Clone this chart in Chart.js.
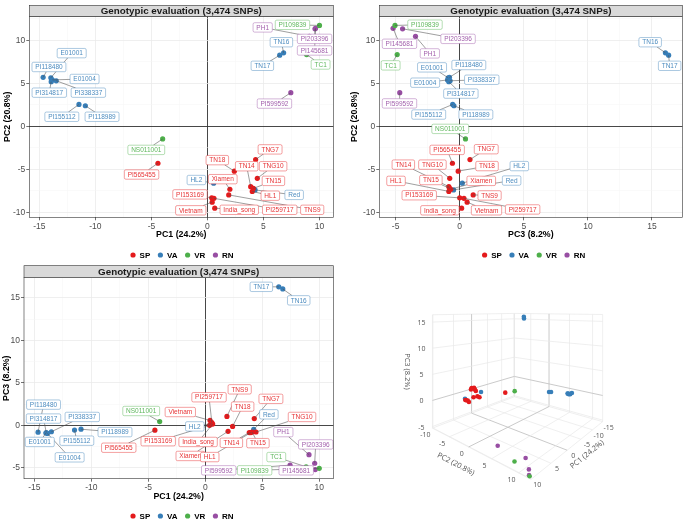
<!DOCTYPE html>
<html>
<head>
<meta charset="utf-8">
<script src="https://cdn.jsdelivr.net/npm/chart.js@4.4.1/dist/chart.umd.min.js"></script>
<style>
  body { margin: 0; background: #fff; }
  #wrap { position: relative; width: 685px; height: 520px; overflow: hidden; }
  canvas { position: absolute; }
</style>
</head>
<body>
<div id="wrap">
  <canvas id="pca12" width="340" height="262" style="left:0;top:0"></canvas>
  <canvas id="pca32" width="345" height="262" style="left:340px;top:0"></canvas>
  <canvas id="pca13" width="340" height="262" style="left:0;top:258px"></canvas>
  <canvas id="pca3d" width="340" height="240" style="left:345px;top:280px"></canvas>
</div>
<script>
// ---------------- data ----------------
const sample = ['PI565455','TNG7','TN18','TN14','TNG10','TN15','Xiamen','HL1','PI153169','Vietnam','India_song','PI259717','TNS9',
                'E01001','PI118480','E01004','PI314817','PI338337','PI155112','PI118989','TN16','TN17','HL2','Red',
                'NS011001','PI109839','TC1',
                'PH1','PI203396','PI145681','PI599592'];
const group = ['SP','SP','SP','SP','SP','SP','SP','SP','SP','SP','SP','SP','SP',
               'VA','VA','VA','VA','VA','VA','VA','VA','VA','VA','VA',
               'VR','VR','VR',
               'RN','RN','RN','RN'];
const pc1 = [-4.42, 4.30, 2.40, 3.86, 4.45, 4.10, 2.00, 4.00, 0.38, 0.42, 0.65, 0.58, 1.90,
             -13.98, -14.67, -13.85, -13.95, -13.50, -11.47, -10.90, 6.80, 6.45, 0.55, 4.25,
             -4.00, 10.00, 8.85,
             9.10, 9.60, 9.65, 7.44];
const pc2 = [-4.28, -3.85, -5.20, -7.00, -6.03, -7.20, -7.30, -7.55, -8.30, -8.80, -9.50, -8.36, -7.96,
             5.65, 5.70, 5.40, 5.20, 5.30, 2.55, 2.40, 8.55, 8.27, -6.60, -7.38,
             -1.46, 11.73, 8.35,
             10.46, 11.34, 11.40, 3.92];
const pc3 = [-0.57, 0.80, -0.12, -0.85, -0.78, -0.78, -0.70, -0.85, 0.00, 0.58, 0.15, 0.33, 1.05,
             -0.90, -0.80, -0.95, -0.85, -0.75, -0.55, -0.45, 16.05, 16.30, 0.20, -0.48,
             0.45, -5.05, -4.88,
             -3.45, -4.46, -5.20, -4.68];

const groups = ['SP','VA','VR','RN'];
const groupColors = ['#E41A1C','#377EB8','#4DAF4A','#984EA3'];
const panelTitle = 'Genotypic evaluation (3,474 SNPs)';
const axisName = { pc1: 'PC1 (24.2%)', pc2: 'PC2 (20.8%)', pc3: 'PC3 (8.2%)' };

// where ggrepel put each label (data units of each panel)
const labelAt12 = {
  E01001: [-12.12, 8.51], PI118480: [-14.15, 6.9], E01004: [-10.97, 5.51], PI314817: [-14.12, 3.92],
  PI338337: [-10.63, 3.92], PI155112: [-13.0, 1.12], PI118989: [-9.41, 1.12],
  PH1: [4.93, 11.5], PI109839: [7.59, 11.8], TN16: [6.6, 9.78], PI203396: [9.56, 10.17],
  PI145681: [9.56, 8.82], TN17: [4.9, 7.04], TC1: [10.1, 7.19], PI599592: [5.98, 2.65],
  NS011001: [-5.46, -2.73], PI565455: [-5.88, -5.59], TNG7: [5.59, -2.67], TN18: [0.88, -3.92],
  TN14: [3.5, -4.63], TNG10: [5.86, -4.63], HL2: [-0.99, -6.23], Xiamen: [1.37, -6.13],
  TN15: [5.89, -6.33], HL1: [5.61, -8.05], Red: [7.74, -7.96], PI153169: [-1.56, -7.9],
  Vietnam: [-1.49, -9.75], India_song: [2.84, -9.69], PI259717: [6.45, -9.69], TNS9: [9.35, -9.69]
};
const labelAt32 = {
  PI109839: [-2.71, 11.82], PI145681: [-4.7, 9.6], PI203396: [-0.13, 10.17], PH1: [-2.33, 8.48],
  TC1: [-5.39, 7.09], E01001: [-2.16, 6.86], PI118480: [0.71, 7.13], E01004: [-2.7, 5.08],
  PI338337: [1.72, 5.42], PI314817: [0.09, 3.81], PI599592: [-4.7, 2.67], PI155112: [-2.42, 1.38],
  PI118989: [1.26, 1.38], TN16: [14.86, 9.78], TN17: [16.38, 7.04], NS011001: [-0.74, -0.29],
  PI565455: [-0.98, -2.73], TNG7: [2.07, -2.65], TN14: [-4.4, -4.44], TNG10: [-2.13, -4.44],
  TN18: [2.13, -4.61], HL2: [4.65, -4.61], HL1: [-4.97, -6.33], TN15: [-2.25, -6.23],
  Xiamen: [1.68, -6.33], Red: [4.05, -6.29], PI153169: [-3.16, -8.0], TNS9: [2.33, -8.02],
  India_song: [-1.55, -9.75], Vietnam: [2.09, -9.75], PI259717: [4.91, -9.65]
};
const labelAt13 = {
  TN17: [4.92, 16.3], TN16: [8.2, 14.71], PI118480: [-14.19, 2.44], PI314817: [-14.19, 0.8],
  PI338337: [-10.79, 0.99], PI118989: [-7.92, -0.79], E01001: [-14.52, -1.95], PI155112: [-11.27, -1.8],
  E01004: [-11.9, -3.76], NS011001: [-5.62, 1.69], PI565455: [-7.59, -2.63], PI259717: [0.33, 3.31],
  TNS9: [3.02, 4.24], TNG7: [5.76, 3.12], Vietnam: [-2.19, 1.57], TN18: [3.28, 2.21],
  Red: [5.58, 1.3], TNG10: [8.49, 0.99], HL2: [-0.92, -0.12], PI153169: [-4.13, -1.86],
  India_song: [-0.63, -1.95], TN14: [2.29, -2.05], TN15: [4.62, -2.09], PH1: [6.85, -0.79],
  Xiamen: [-1.31, -3.6], HL1: [0.39, -3.73], PI203396: [9.69, -2.24], TC1: [6.23, -3.73],
  PI599592: [1.18, -5.29], PI109839: [4.33, -5.29], PI145681: [7.98, -5.29]
};

//------------------------------------------------------------------

const FONT = '"Liberation Sans", Arial, sans-serif';

function expand(v) {
  const lo = Math.min(...v), hi = Math.max(...v), d = (hi - lo) * 0.05;
  return [lo - d, hi + d];
}

function rgba(hex, a) {
  const n = parseInt(hex.slice(1), 16);
  return 'rgba(' + (n >> 16) + ',' + ((n >> 8) & 255) + ',' + (n & 255) + ',' + a + ')';
}

function groupSets(xv, yv, r) {
  return groups.map((g, gi) => ({
    label: g,
    data: sample.map((s, i) => ({ x: xv[i], y: yv[i], name: s })).filter((d, i) => group[i] === g),
    backgroundColor: groupColors[gi],
    borderWidth: 0,
    pointRadius: r,
    pointHoverRadius: r
  }));
}

function ggAxis(range, title, size, titlePad) {
  return {
    type: 'linear',
    min: range[0],
    max: range[1],
    afterBuildTicks: sc => {
      const t = [];
      for (let v = Math.ceil(sc.min / 2.5) * 2.5; v <= sc.max; v += 2.5) t.push({ value: v });
      sc.ticks = t;
    },
    afterFit: sc => { if (sc.isHorizontal()) sc.height = size; else sc.width = size; },
    ticks: {
      callback: v => (v % 5 === 0 ? v : ''),
      color: '#4D4D4D',
      font: { family: FONT, size: 8.5 },
      padding: 1,
      maxRotation: 0,
      autoSkip: false
    },
    grid: {
      color: c => (c.tick.value === 0 ? '#333333' : (c.tick.value % 5 === 0 ? '#EBEBEB' : '#F4F4F4')),
      lineWidth: c => (c.tick.value === 0 ? 0.9 : (c.tick.value % 5 === 0 ? 0.8 : 0.5)),
      tickColor: c => (c.tick.value % 5 === 0 ? '#333333' : 'rgba(0,0,0,0)'),
      tickLength: 3,
      tickWidth: 0.7
    },
    border: { display: false },
    title: { display: true, text: title, color: '#000', font: { family: FONT, size: 8.8, weight: 'bold' }, padding: titlePad }
  };
}

// strip, panel border and legend like ggplot theme_bw
const ggFrame = {
  id: 'ggFrame',
  afterDraw(chart, args, o) {
    const ctx = chart.ctx, a = chart.chartArea;
    ctx.save();
    ctx.strokeStyle = '#333333';
    ctx.lineWidth = 0.6;
    ctx.strokeRect(a.left, a.top, a.right - a.left, a.bottom - a.top);
    ctx.fillStyle = '#D9D9D9';
    ctx.fillRect(a.left, a.top - o.strip, a.right - a.left, o.strip);
    ctx.strokeRect(a.left, a.top - o.strip, a.right - a.left, o.strip);
    ctx.fillStyle = '#1A1A1A';
    ctx.font = 'bold 9.8px ' + FONT;
    ctx.textAlign = 'center';
    ctx.textBaseline = 'middle';
    ctx.fillText(panelTitle, (a.left + a.right) / 2, a.top - o.strip / 2 + 0.5);

    // legend
    ctx.font = 'bold 8px ' + FONT;
    ctx.textAlign = 'left';
    const r = 2.6, gap = 4, sep = 7.5;
    const items = chart.data.datasets.map(ds => ({ t: ds.label, c: ds.backgroundColor, w: ctx.measureText(ds.label).width }));
    const total = items.reduce((s, it) => s + 2 * r + gap + it.w, 0) + sep * (items.length - 1);
    let x = o.legendX - total / 2;
    items.forEach(it => {
      ctx.fillStyle = it.c;
      ctx.beginPath();
      ctx.arc(x + r, o.legendY, r, 0, Math.PI * 2);
      ctx.fill();
      ctx.fillStyle = '#000';
      ctx.fillText(it.t, x + 2 * r + gap, o.legendY + 0.5);
      x += 2 * r + gap + it.w + sep;
    });
    ctx.restore();
  }
};

// ggrepel style labels with segments
const repelLabels = {
  id: 'repelLabels',
  afterDatasetsDraw(chart, args, o) {
    const ctx = chart.ctx, xs = chart.scales.x, ys = chart.scales.y;
    ctx.save();
    ctx.font = '6.5px ' + FONT;
    const boxes = [];
    chart.data.datasets.forEach((ds, di) => {
      const meta = chart.getDatasetMeta(di);
      ds.data.forEach((d, i) => {
        const p = o.at[d.name];
        if (!p) return;
        const el = meta.data[i];
        boxes.push({
          px: el.x, py: el.y,
          cx: xs.getPixelForValue(p[0]), cy: ys.getPixelForValue(p[1]),
          w: ctx.measureText(d.name).width + 6.6, h: 9.4,
          name: d.name, color: ds.backgroundColor
        });
      });
    });
    ctx.strokeStyle = 'rgba(80,80,80,0.85)';
    ctx.lineWidth = 0.65;
    boxes.forEach(b => {
      const dx = b.px - b.cx, dy = b.py - b.cy;
      const s = Math.min(dx ? (b.w / 2) / Math.abs(dx) : Infinity, dy ? (b.h / 2) / Math.abs(dy) : Infinity);
      if (s >= 1) return;
      const ex = b.cx + dx * s, ey = b.cy + dy * s;
      if (Math.hypot(b.px - ex, b.py - ey) < 2.5) return;
      ctx.beginPath();
      ctx.moveTo(b.px, b.py);
      ctx.lineTo(ex, ey);
      ctx.stroke();
    });
    ctx.textAlign = 'center';
    ctx.textBaseline = 'middle';
    boxes.forEach(b => {
      const l = b.cx - b.w / 2, t = b.cy - b.h / 2;
      ctx.beginPath();
      if (ctx.roundRect) ctx.roundRect(l, t, b.w, b.h, 1.5); else ctx.rect(l, t, b.w, b.h);
      ctx.fillStyle = '#fff';
      ctx.fill();
      ctx.strokeStyle = rgba(b.color, 0.6);
      ctx.lineWidth = 0.7;
      ctx.stroke();
      ctx.fillStyle = rgba(b.color, 0.9);
      ctx.fillText(b.name, b.cx, b.cy + 0.4);
    });
    ctx.restore();
  }
};

function scatterPanel(id, xv, yv, xTitle, yTitle, labelAt, f) {
  return new Chart(document.getElementById(id), {
    type: 'scatter',
    data: { datasets: groupSets(xv, yv, 2.6) },
    options: {
      responsive: false,
      animation: false,
      devicePixelRatio: 1,
      layout: { padding: f.padding },
      scales: {
        x: ggAxis(expand(xv), xTitle, 24, { top: 0, bottom: f.xTitlePad }),
        y: ggAxis(expand(yv), yTitle, f.yWidth, { top: f.yTitlePad, bottom: 0 })
      },
      plugins: {
        legend: { display: false },
        tooltip: { enabled: false },
        ggFrame: { strip: f.strip, legendX: f.legendX, legendY: f.legendY },
        repelLabels: { at: labelAt }
      }
    },
    plugins: [ggFrame, repelLabels]
  });
}

scatterPanel('pca12', pc1, pc2, axisName.pc1, axisName.pc2, labelAt12,
  { padding: { left: 0, right: 6.7, top: 16.3, bottom: 20.7 }, yWidth: 29.3, xTitlePad: 1.9, yTitlePad: 1.9,
    strip: 11, legendX: 182, legendY: 255 });
scatterPanel('pca32', pc3, pc2, axisName.pc3, axisName.pc2, labelAt32,
  { padding: { left: 0, right: 1.7, top: 16.3, bottom: 20.7 }, yWidth: 39.3, xTitlePad: 1.9, yTitlePad: 8.9,
    strip: 11, legendX: 193.6, legendY: 255 });
scatterPanel('pca13', pc1, pc3, axisName.pc1, axisName.pc3, labelAt13,
  { padding: { left: 0, right: 6.7, top: 19.7, bottom: 17.3 }, yWidth: 24, xTitlePad: 0.9, yTitlePad: 0.9,
    strip: 12, legendX: 182, legendY: 258 });

//------------------------------------------------------------------
// 3D view (perspective camera like the plotly scene)

const box3d = [[-15, 10.1], [-10, 12], [-5.3, 16.4]];
const view3d = { phi: 40, dist: 4.38, eyeZ: 1.09, fx: 268, fy: 246, cx: 175, cy: 27.9 };

function norm(v, r) { return (v - (r[0] + r[1]) / 2) / ((r[1] - r[0]) / 2); }

function project(a, b, c) {
  const X = norm(a, box3d[0]), Y = norm(b, box3d[1]), Z = norm(c, box3d[2]);
  const ph = view3d.phi * Math.PI / 180, cs = Math.cos(ph), sn = Math.sin(ph);
  const lat = -sn * X + cs * Y;
  const dep = view3d.dist - (cs * X + sn * Y);
  return { x: view3d.cx + view3d.fx * lat / dep, y: view3d.cy + view3d.fy * (view3d.eyeZ - Z) / dep };
}

function ticks5(r) {
  const t = [];
  for (let v = Math.ceil(r[0] / 5) * 5; v <= r[1] + 1e-9; v += 5) t.push(v);
  return t;
}

const box3dGrid = {
  id: 'box3dGrid',
  beforeDatasetsDraw(chart) {
    const ctx = chart.ctx, sx = chart.scales.x, sy = chart.scales.y;
    const P = (a, b, c) => { const p = project(a, b, c); return [sx.getPixelForValue(p.x), sy.getPixelForValue(p.y)]; };
    const seg = (p, q, zero) => {
      ctx.strokeStyle = zero ? '#C4C4C4' : '#E8E8E8';
      ctx.lineWidth = zero ? 0.9 : 0.7;
      ctx.beginPath(); ctx.moveTo(p[0], p[1]); ctx.lineTo(q[0], q[1]); ctx.stroke();
    };
    const [r1, r2, r3] = box3d;
    const t1 = ticks5(r1), t2 = ticks5(r2), t3 = ticks5(r3);
    ctx.save();
    // edges of the back planes
    [[r1[1], r2[0]], [r1[0], r2[0]], [r1[0], r2[1]]].forEach(e => seg(P(e[0], e[1], r3[0]), P(e[0], e[1], r3[1]), false));
    seg(P(r1[0], r2[0], r3[1]), P(r1[1], r2[0], r3[1]), false);
    seg(P(r1[0], r2[0], r3[1]), P(r1[0], r2[1], r3[1]), false);
    seg(P(r1[1], r2[0], r3[0]), P(r1[1], r2[1], r3[0]), false);
    seg(P(r1[0], r2[1], r3[0]), P(r1[1], r2[1], r3[0]), false);
    // floor
    t1.forEach(t => seg(P(t, r2[0], r3[0]), P(t, r2[1], r3[0]), t === 0));
    t2.forEach(t => seg(P(r1[0], t, r3[0]), P(r1[1], t, r3[0]), t === 0));
    // wall at PC2 min
    t1.forEach(t => seg(P(t, r2[0], r3[0]), P(t, r2[0], r3[1]), t === 0));
    t3.forEach(t => seg(P(r1[0], r2[0], t), P(r1[1], r2[0], t), t === 0));
    // wall at PC1 min
    t2.forEach(t => seg(P(r1[0], t, r3[0]), P(r1[0], t, r3[1]), t === 0));
    t3.forEach(t => seg(P(r1[0], r2[0], t), P(r1[0], r2[1], t), t === 0));

    // tick labels
    ctx.fillStyle = '#555';
    ctx.font = '7px "Open Sans", sans-serif';
    ctx.textAlign = 'center';
    ctx.textBaseline = 'middle';
    t3.forEach(t => { const p = P(r1[1], r2[0], t); ctx.fillText(t, p[0] - 11, p[1] + 1); });
    t2.forEach(t => { const p = P(r1[1], t, r3[0]); ctx.fillText(t, p[0] - 7, p[1] + 7); });
    t1.forEach(t => { const p = P(t, r2[1], r3[0]); ctx.fillText(t, p[0] + 6, p[1] + 6); });

    // axis titles
    ctx.font = '7.5px "Open Sans", sans-serif';
    const title = (txt, p, dx, dy, ang) => {
      ctx.save(); ctx.translate(p[0] + dx, p[1] + dy); ctx.rotate(ang); ctx.fillText(txt, 0, 0); ctx.restore();
    };
    const m1 = (r1[0] + r1[1]) / 2, m2 = (r2[0] + r2[1]) / 2, m3 = (r3[0] + r3[1]) / 2;
    title(axisName.pc3, P(r1[1], r2[0], m3), -25, 0, Math.PI / 2);
    const a2 = P(r1[1], r2[0], r3[0]), b2 = P(r1[1], r2[1], r3[0]);
    title(axisName.pc2, P(r1[1], m2, r3[0]), -17, 15, Math.atan2(b2[1] - a2[1], b2[0] - a2[0]));
    const a1 = P(r1[1], r2[1], r3[0]), b1 = P(r1[0], r2[1], r3[0]);
    title(axisName.pc1, P(m1, r2[1], r3[0]), 13, 10, Math.atan2(b1[1] - a1[1], b1[0] - a1[0]));
    ctx.restore();
  }
};

const proj = sample.map((s, i) => project(pc1[i], pc2[i], pc3[i]));

new Chart(document.getElementById('pca3d'), {
  type: 'scatter',
  data: { datasets: groupSets(proj.map(p => p.x), proj.map(p => p.y), 2.3) },
  options: {
    responsive: false,
    animation: false,
    devicePixelRatio: 1,
    layout: { padding: 0 },
    scales: {
      x: { type: 'linear', min: 0, max: 340, display: false },
      y: { type: 'linear', min: 0, max: 240, reverse: true, display: false }
    },
    plugins: { legend: { display: false }, tooltip: { enabled: false } }
  },
  plugins: [box3dGrid]
});
</script>
</body>
</html>
